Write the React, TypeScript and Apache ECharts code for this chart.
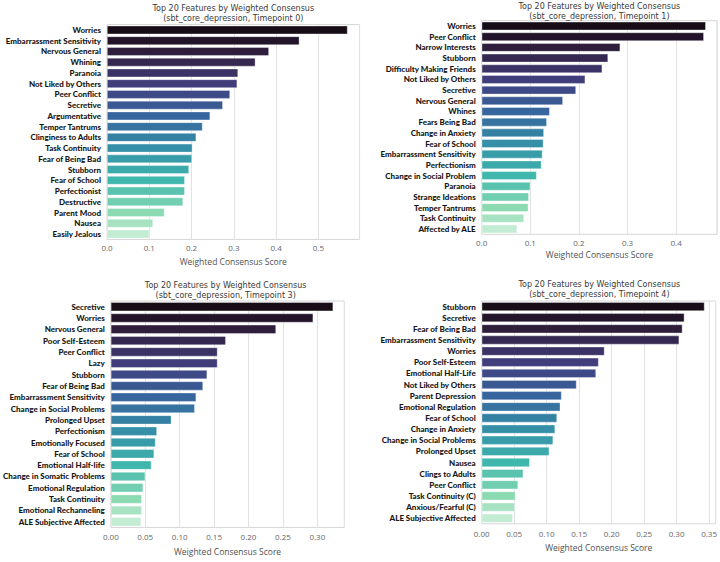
import React, { useEffect, useRef } from 'react';
import * as echarts from 'echarts';

// Weighted consensus scores of the top 20 features per timepoint (sbt_core_depression)
const timepoints = [0, 1, 3, 4];

const featuresT0 = [
  'Worries', 'Embarrassment Sensitivity', 'Nervous General', 'Whining', 'Paranoia',
  'Not Liked by Others', 'Peer Conflict', 'Secretive', 'Argumentative', 'Temper Tantrums',
  'Clinginess to Adults', 'Task Continuity', 'Fear of Being Bad', 'Stubborn', 'Fear of School',
  'Perfectionist', 'Destructive', 'Parent Mood', 'Nausea', 'Easily Jealous',
];
const scoresT0 = [
  0.569, 0.455, 0.383, 0.351, 0.310, 0.308, 0.291, 0.274, 0.244, 0.226,
  0.211, 0.202, 0.201, 0.194, 0.184, 0.184, 0.180, 0.136, 0.109, 0.100,
];

const featuresT1 = [
  'Worries', 'Peer Conflict', 'Narrow Interests', 'Stubborn', 'Difficulty Making Friends',
  'Not Liked by Others', 'Secretive', 'Nervous General', 'Whines', 'Fears Being Bad',
  'Change in Anxiety', 'Fear of School', 'Embarrassment Sensitivity', 'Perfectionism',
  'Change in Social Problem', 'Paranoia', 'Strange Ideations', 'Temper Tantrums',
  'Task Continuity', 'Affected by ALE',
];
const scoresT1 = [
  0.461, 0.457, 0.285, 0.260, 0.248, 0.213, 0.194, 0.167, 0.140, 0.134,
  0.128, 0.127, 0.125, 0.123, 0.113, 0.100, 0.097, 0.096, 0.087, 0.073,
];

const featuresT3 = [
  'Secretive', 'Worries', 'Nervous General', 'Poor Self-Esteem', 'Peer Conflict',
  'Lazy', 'Stubborn', 'Fear of Being Bad', 'Embarrassment Sensitivity',
  'Change in Social Problems', 'Prolonged Upset', 'Perfectionism', 'Emotionally Focused',
  'Fear of School', 'Emotional Half-life', 'Change in Somatic Problems',
  'Emotional Regulation', 'Task Continuity', 'Emotional Rechanneling', 'ALE Subjective Affected',
];
const scoresT3 = [
  0.323, 0.294, 0.240, 0.167, 0.155, 0.155, 0.140, 0.134, 0.124, 0.122,
  0.088, 0.067, 0.065, 0.063, 0.059, 0.050, 0.047, 0.045, 0.045, 0.044,
];

const featuresT4 = [
  'Stubborn', 'Secretive', 'Fear of Being Bad', 'Embarrassment Sensitivity', 'Worries',
  'Poor Self-Esteem', 'Emotional Half-Life', 'Not Liked by Others', 'Parent Depression',
  'Emotional Regulation', 'Fear of School', 'Change in Anxiety', 'Change in Social Problems',
  'Prolonged Upset', 'Nausea', 'Clings to Adults', 'Peer Conflict', 'Task Continuity (C)',
  'Anxious/Fearful (C)', 'ALE Subjective Affected',
];
const scoresT4 = [
  0.343, 0.312, 0.309, 0.304, 0.189, 0.180, 0.176, 0.146, 0.123, 0.121,
  0.116, 0.113, 0.110, 0.104, 0.074, 0.064, 0.056, 0.052, 0.051, 0.048,
];

const tickSteps = [0.1, 0.1, 0.05, 0.05];
const tickDecimals = [1, 1, 2, 2];

const featureLists = [featuresT0, featuresT1, featuresT3, featuresT4];
const scoreLists = [scoresT0, scoresT1, scoresT3, scoresT4];

// Panel layout (pixels): plot box, title top, tick-label margin, axis-name gap
const layout = [
  { left: 107, top: 24.6, width: 252.6, height: 214.8, titleTop: 3, labelMargin: 4.5, nameGap: 18 },
  { left: 481.7, top: 20.7, width: 235.3, height: 213.6, titleTop: 1, labelMargin: 4.5, nameGap: 16 },
  { left: 107, top: 301, width: 237.3, height: 226.4, titleTop: 280, labelMargin: 5.3, nameGap: 20 },
  { left: 481.7, top: 301, width: 235.3, height: 222.8, titleTop: 279.5, labelMargin: 6, nameGap: 19.5 },
];

// Mako colormap anchor colours, sampled like seaborn does for n colours
const makoStops = ['#0B0405', '#2E1E3B', '#413D7B', '#37659E', '#348FA7', '#40B7AD', '#8BDAB2', '#DEF5E5'];

function hexToRgb(h: string) {
  const n = parseInt(h.slice(1), 16);
  return [(n >> 16) & 255, (n >> 8) & 255, n & 255];
}

function makoAt(t: number) {
  const seg = makoStops.length - 1;
  const pos = Math.min(Math.max(t, 0), 1) * seg;
  const i = Math.min(Math.floor(pos), seg - 1);
  const f = pos - i;
  const a = hexToRgb(makoStops[i]);
  const b = hexToRgb(makoStops[i + 1]);
  const c = a.map((v, k) => Math.round(v + (b[k] - v) * f));
  return `rgb(${c[0]},${c[1]},${c[2]})`;
}

function makoPalette(n: number) {
  const out: string[] = [];
  for (let i = 1; i <= n; i++) out.push(makoAt(i / (n + 1)));
  return out;
}

export default function App() {
  const ref = useRef<HTMLDivElement>(null);

  useEffect(() => {
    if (!ref.current) return;
    const chart = echarts.init(ref.current, undefined, { renderer: 'svg' });

    const grids: any[] = [];
    const xAxes: any[] = [];
    const yAxes: any[] = [];
    const series: any[] = [];
    const titles: any[] = [];

    featureLists.forEach((features, p) => {
      const L = layout[p];
      const colors = makoPalette(features.length);
      grids.push({
        left: L.left, top: L.top, width: L.width, height: L.height,
        show: true, borderColor: '#d6d6d6', borderWidth: 1, backgroundColor: 'transparent',
        containLabel: false,
      });
      titles.push({
        text: `Top 20 Features by Weighted Consensus\n(sbt_core_depression, Timepoint ${timepoints[p]})`,
        left: L.left + L.width / 2,
        top: L.titleTop,
        padding: 0,
        textAlign: 'center',
        textStyle: {
          fontFamily: 'DejaVu Sans', fontSize: 8, fontWeight: 'normal',
          color: '#3a3a3a', lineHeight: 10,
        },
      });
      const step = tickSteps[p];
      const dec = tickDecimals[p];
      xAxes.push({
        type: 'value',
        gridIndex: p,
        min: 0,
        max: (v: { max: number }) => v.max * 1.05,
        interval: step,
        axisLine: { show: false },
        axisTick: { show: false },
        splitLine: { show: true, lineStyle: { color: '#e2e2e2', width: 1 } },
        axisLabel: {
          showMaxLabel: false,
          margin: L.labelMargin,
          fontFamily: 'Open Sans', fontSize: 8, color: '#666666',
          formatter: (v: number) => v.toFixed(dec),
        },
        name: 'Weighted Consensus Score',
        nameLocation: 'middle',
        nameGap: L.nameGap,
        nameTextStyle: { fontFamily: 'Open Sans', fontSize: 8.5, color: '#505050' },
      });
      yAxes.push({
        type: 'category',
        gridIndex: p,
        inverse: true,
        data: features,
        axisLine: { show: false },
        axisTick: { show: false },
        splitLine: { show: false },
        axisLabel: {
          margin: 6,
          fontFamily: 'Lato', fontSize: 8, fontWeight: 900, color: '#161616',
        },
      });
      series.push({
        type: 'bar',
        xAxisIndex: p,
        yAxisIndex: p,
        barCategoryGap: '20%',
        data: scoreLists[p].map((v, i) => ({
          value: v,
          itemStyle: { color: colors[i], borderColor: 'rgba(255,255,255,0.6)', borderWidth: 0.6 },
        })),
      });
    });

    chart.setOption({
      animation: false,
      backgroundColor: '#ffffff',
      title: titles,
      grid: grids,
      xAxis: xAxes,
      yAxis: yAxes,
      series,
    });

    return () => chart.dispose();
  }, []);

  return (
    <div
      ref={ref}
      style={{ position: 'fixed', left: 0, top: 0, width: 720, height: 562, background: '#ffffff' }}
    />
  );
}
